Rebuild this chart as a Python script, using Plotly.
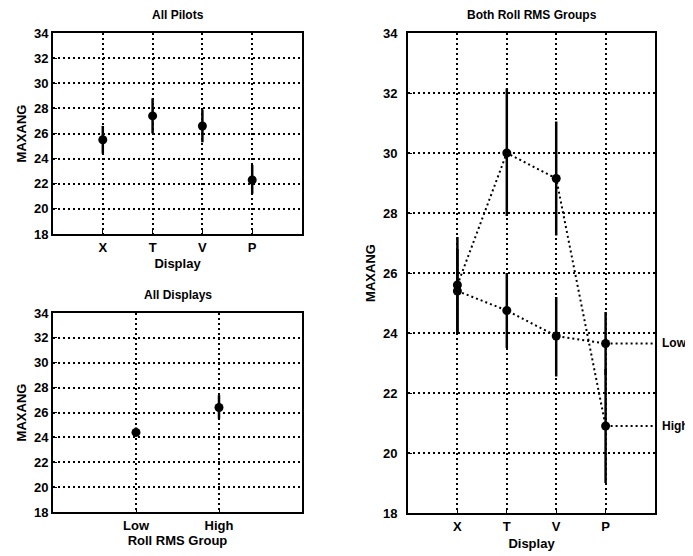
import plotly.graph_objects as go

# ---- data ----
displays = ["X", "T", "V", "P"]
all_pilots_mean = [25.5, 27.4, 26.6, 22.3]
all_pilots_lo = [24.4, 26.0, 25.3, 21.2]
all_pilots_hi = [26.6, 28.8, 27.9, 23.5]

groups = ["Low", "High"]
all_displays_mean = [24.4, 26.4]
all_displays_lo = [24.1, 25.5]
all_displays_hi = [24.8, 27.4]

low_mean = [25.4, 24.75, 23.9, 23.65]
low_lo = [24.0, 23.5, 22.55, 22.6]
low_hi = [26.8, 26.0, 25.2, 24.7]
high_mean = [25.6, 30.0, 29.15, 20.9]
high_lo = [24.0, 27.9, 27.25, 19.0]
high_hi = [27.2, 32.15, 31.05, 22.8]

y_ticks = [18, 20, 22, 24, 26, 28, 30, 32, 34]

W, H = 693, 556
OFF = 8  # page body margin
FONT = "Liberation Sans"


def xd(a, b):
    return [(a - OFF) / W, (b - OFF) / W]


def yd(top, bottom):
    return [1 - (bottom - OFF) / H, 1 - (top - OFF) / H]


def px(x):
    return (x - OFF) / W


def py(y):
    return 1 - (y - OFF) / H


def pos(n):
    return list(range(1, n + 1))


def err(mean, lo, hi):
    return dict(type="data", symmetric=False,
                array=[h - m for h, m in zip(hi, mean)],
                arrayminus=[m - l for m, l in zip(mean, lo)],
                color="black", thickness=2.5, width=0)


DOT = "2px,3px"

fig = go.Figure()

# panel 1: All Pilots
fig.add_trace(go.Scatter(x=pos(4), y=all_pilots_mean, mode="markers",
                         marker=dict(color="black", size=9),
                         error_y=err(all_pilots_mean, all_pilots_lo, all_pilots_hi),
                         xaxis="x", yaxis="y", showlegend=False))
# panel 2: All Displays
fig.add_trace(go.Scatter(x=pos(2), y=all_displays_mean, mode="markers",
                         marker=dict(color="black", size=9),
                         error_y=err(all_displays_mean, all_displays_lo, all_displays_hi),
                         xaxis="x2", yaxis="y2", showlegend=False))
# panel 3: Both Roll RMS Groups
for mean, lo, hi in [(low_mean, low_lo, low_hi), (high_mean, high_lo, high_hi)]:
    fig.add_trace(go.Scatter(x=pos(4), y=mean, mode="lines+markers",
                             line=dict(color="black", width=2, dash=DOT),
                             marker=dict(color="black", size=9),
                             error_y=err(mean, lo, hi),
                             xaxis="x3", yaxis="y3", showlegend=False))
    fig.add_trace(go.Scatter(x=[4, 5], y=[mean[-1], mean[-1]], mode="lines",
                             line=dict(color="black", width=2, dash=DOT),
                             xaxis="x3", yaxis="y3", showlegend=False,
                             cliponaxis=False))

tf = dict(family=FONT, size=13, color="black", weight="bold")
axis_common = dict(showline=True, linewidth=2, linecolor="black", mirror=True,
                   showgrid=True, gridcolor="black", griddash=DOT, gridwidth=1.5,
                   zeroline=False, ticks="inside", ticklen=4, tickcolor="black",
                   automargin=False, tickfont=tf)

yaxis_common = dict(axis_common, range=[18, 34], tickvals=y_ticks,
                    title=dict(text="MAXANG", font=tf, standoff=4))

fig.update_layout(
    width=W, height=H, margin=dict(l=0, r=0, t=0, b=0, autoexpand=False),
    paper_bgcolor="white", plot_bgcolor="white",
    xaxis=dict(axis_common, domain=xd(53, 302), range=[0, 5], tickvals=pos(4), ticktext=displays,
               anchor="y", title=dict(text="Display", font=tf, standoff=5)),
    yaxis=dict(yaxis_common, domain=yd(33, 234), anchor="x"),
    xaxis2=dict(axis_common, domain=xd(53, 302), range=[0, 3], tickvals=pos(2), ticktext=groups,
                anchor="y2", title=dict(text="Roll RMS Group", font=tf, standoff=4)),
    yaxis2=dict(yaxis_common, domain=yd(313, 512), anchor="x2"),
    xaxis3=dict(axis_common, domain=xd(408, 655), range=[0, 5], tickvals=pos(4), ticktext=displays,
                anchor="y3", title=dict(text="Display", font=tf, standoff=6)),
    yaxis3=dict(yaxis_common, domain=yd(33, 513), anchor="x3", ticklabelstandoff=6,
                title=dict(text="MAXANG", font=tf, standoff=4)),
    annotations=[
        dict(text="All Pilots", x=px((53 + 302) / 2), y=py(15), xref="paper", yref="paper",
             xanchor="center", yanchor="middle", showarrow=False, font=dict(tf, size=12)),
        dict(text="All Displays", x=px((53 + 302) / 2), y=py(295), xref="paper", yref="paper",
             xanchor="center", yanchor="middle", showarrow=False, font=dict(tf, size=12)),
        dict(text="Both Roll RMS Groups", x=px((408 + 655) / 2), y=py(15), xref="paper", yref="paper",
             xanchor="center", yanchor="middle", showarrow=False, font=dict(tf, size=12)),
        dict(text="Low", x=5, y=low_mean[-1], xref="x3", yref="y3", xanchor="left", xshift=5,
             showarrow=False, font=dict(tf, size=12)),
        dict(text="High", x=5, y=high_mean[-1], xref="x3", yref="y3", xanchor="left", xshift=5,
             showarrow=False, font=dict(tf, size=12)),
    ],
)

fig.write_html("out.html")
